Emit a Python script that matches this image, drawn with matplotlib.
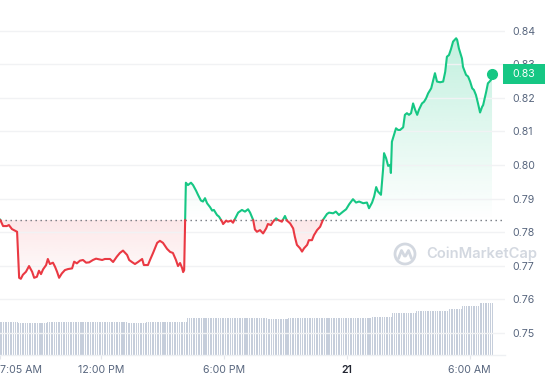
import numpy as np
import matplotlib
matplotlib.use("Agg")
import matplotlib.pyplot as plt
from matplotlib.patches import Polygon, Circle, Rectangle
from matplotlib.colors import to_rgb

plt.rcParams["font.family"] = ["Inter", "DejaVu Sans"]

# ---------------- data ----------------
# minutes since 07:05 AM (day 20)
minutes = [0, 9, 20, 26, 35, 44, 50, 56, 61, 67, 76, 85, 94, 100, 108, 114, 120, 126, 135, 140,
           146, 155, 161, 167, 173, 181, 190, 199, 211, 217, 225, 234, 243, 252, 261, 272, 281, 290,
           299, 307, 322, 331, 342, 351, 360, 372, 378, 386, 395, 404, 416, 421, 433, 439, 448, 460,
           468, 477, 489, 498, 506, 515, 521, 527, 533, 536, 539,
           544, 550, 559, 565, 574, 580, 588, 594, 600, 606, 615, 621, 626, 635, 641, 650, 653, 662,
           667, 676, 682, 691, 697, 708, 717, 726, 732, 741, 746, 752, 761, 770, 779, 784, 793, 799,
           808, 814,
           825, 834, 840, 849, 858, 863, 869, 878, 884, 890, 899, 904, 913, 919, 928, 937, 945, 957,
           963, 975, 983, 992, 1004, 1013, 1022, 1033, 1042, 1051, 1063, 1074, 1080,
           1089, 1095, 1101, 1106, 1115, 1121, 1124, 1130, 1136, 1142, 1144, 1147, 1153, 1159, 1165,
           1171, 1180, 1185, 1191, 1197, 1203, 1209, 1215, 1221, 1226, 1235, 1241, 1247, 1253, 1262,
           1267, 1273,
           1279, 1288, 1297, 1303, 1308, 1314, 1320, 1326, 1335, 1338, 1343, 1352, 1355, 1364, 1370,
           1376, 1382, 1387, 1393, 1399, 1405, 1411, 1414, 1423, 1428, 1431, 1437, 1440]

prices = [0.7838, 0.7818, 0.7818, 0.7821, 0.7809, 0.7804, 0.7801, 0.7664, 0.7661, 0.7673, 0.7682,
          0.7699, 0.7682, 0.7664, 0.7667, 0.7685, 0.7675, 0.7689, 0.7702, 0.7720, 0.7705, 0.7709,
          0.7697, 0.7682, 0.7664, 0.7677, 0.7687, 0.7690, 0.7692, 0.7712, 0.7707, 0.7715, 0.7717,
          0.7709, 0.7710, 0.7717, 0.7721, 0.7719,
          0.7717, 0.7720, 0.7720, 0.7711, 0.7727, 0.7738, 0.7745, 0.7732, 0.7717, 0.7711, 0.7705,
          0.7711, 0.7720, 0.7702, 0.7702, 0.7717, 0.7738, 0.7768, 0.7774, 0.7768, 0.7750, 0.7741,
          0.7738, 0.7717, 0.7699, 0.7708, 0.7693, 0.7681, 0.7687,
          0.7947, 0.7940, 0.7947, 0.7940, 0.7923, 0.7910, 0.7894, 0.7891, 0.7901, 0.7886, 0.7874,
          0.7864, 0.7866, 0.7851, 0.7846, 0.7831, 0.7824, 0.7834, 0.7831, 0.7834, 0.7828, 0.7846,
          0.7858, 0.7866, 0.7861, 0.7868, 0.7858, 0.7836, 0.7808, 0.7801, 0.7806, 0.7796, 0.7811,
          0.7824, 0.7821, 0.7831, 0.7841, 0.7836,
          0.7831, 0.7848, 0.7834, 0.7826, 0.7811, 0.7786, 0.7762, 0.7752, 0.7742, 0.7752, 0.7762,
          0.7776, 0.7776, 0.7791, 0.7806, 0.7816, 0.7836, 0.7854, 0.7858, 0.7856, 0.7861, 0.7851,
          0.7861, 0.7868, 0.7883, 0.7898, 0.7888, 0.7891, 0.7886, 0.7888, 0.7871,
          0.7888, 0.7906, 0.7934, 0.7921, 0.7911, 0.7985, 0.8035, 0.8020, 0.7997, 0.8000, 0.7976,
          0.8069, 0.8089, 0.8109, 0.8104, 0.8104, 0.8112, 0.8149, 0.8154, 0.8149, 0.8154, 0.8183,
          0.8164, 0.8149, 0.8164, 0.8183, 0.8188, 0.8198, 0.8213, 0.8228, 0.8248, 0.8273,
          0.8248, 0.8246, 0.8248, 0.8277, 0.8322, 0.8327, 0.8345, 0.8367, 0.8377, 0.8372, 0.8347,
          0.8317, 0.8292, 0.8268, 0.8263, 0.8248, 0.8228, 0.8223, 0.8208, 0.8183, 0.8156, 0.8173,
          0.8178, 0.8218, 0.8243, 0.8246, 0.8253, 0.8270]

base_price = 0.7836
last_label = "0.83"

# volume (USD millions), given as runs of equal 5-minute bars
vol_levels = [330, 320, 330, 325, 335, 370, 360, 370, 385, 425, 445, 465, 490, 525]
vol_counts = [11, 17, 47, 11, 24, 47, 12, 49, 12, 14, 19, 8, 10, 8]
vol_step_min = 5

ytick_vals = [0.75, 0.76, 0.77, 0.78, 0.79, 0.80, 0.81, 0.82, 0.83, 0.84]
xtick_minutes = [0, 295, 655, 1015, 1375]
xtick_labels = ["7:05 AM", "12:00 PM", "6:00 PM", "21", "6:00 AM"]

# ---------------- style ----------------
GREEN = "#16c784"
RED = "#ea3943"
LABEL = "#58667e"

W, H = 545, 380
fig = plt.figure(figsize=(W / 100, H / 100), dpi=100)
fig.patch.set_facecolor("white")

ax_left, ax_right_px, ax_top_px, ax_bot_px = 0, 505, 10, 355
rect = [ax_left / W, (H - ax_bot_px) / H, (ax_right_px - ax_left) / W, (ax_bot_px - ax_top_px) / H]

x_max = 1478
px_per_price = 3360.0
y_bot = 0.84908 - ax_bot_px / px_per_price
y_top = 0.84908 - ax_top_px / px_per_price

# watermark overlay (behind)
ov = fig.add_axes([0, 0, 1, 1], zorder=0)
ov.set_xlim(0, W)
ov.set_ylim(H, 0)
ov.axis("off")
wm = "#d3d8e0"
ov.add_patch(Circle((405, 254), 10, fill=False, edgecolor=wm, lw=2.0))
ov.plot([398.5, 401.5, 404.5, 405.5, 408.5, 411.5],
        [258.5, 250.5, 256, 256, 250.5, 258.5], color=wm, lw=2.0,
        solid_capstyle="round", solid_joinstyle="round")
ov.text(426, 254, "CoinMarketCap", color=wm, fontsize=10.6, fontweight="semibold",
        ha="left", va="center")

# volume axes
axv = fig.add_axes(rect, zorder=1)
axv.patch.set_visible(False)
vols = np.repeat(vol_levels, vol_counts)
vt = np.arange(len(vols)) * vol_step_min
axv.bar(vt, vols, width=3.0, color="#c6cedb", linewidth=0, align="center")
axv.set_xlim(0, x_max)
axv.set_ylim(0, (ax_bot_px - ax_top_px) * 10)
axv.axis("off")

# price axes
ax = fig.add_axes(rect, zorder=2)
ax.patch.set_visible(False)

t = np.array(minutes, float)
p = np.array(prices, float)
xs, ys = [t[0]], [p[0]]
for i in range(1, len(t)):
    d0, d1 = p[i - 1] - base_price, p[i] - base_price
    if d0 * d1 < 0:
        f = d0 / (d0 - d1)
        xs.append(t[i - 1] + f * (t[i] - t[i - 1]))
        ys.append(base_price)
    xs.append(t[i])
    ys.append(p[i])
xs = np.array(xs)
ys = np.array(ys)


def gradient_fill(yvals, color, a_top, a_bot, g_top, g_bot):
    verts = np.column_stack([np.r_[xs, xs[-1], xs[0]], np.r_[yvals, base_price, base_price]])
    poly = Polygon(verts, closed=True, facecolor="none", edgecolor="none", transform=ax.transData)
    ax.add_patch(poly)
    n = 256
    img = np.zeros((n, 1, 4))
    img[..., :3] = to_rgb(color)
    img[:, 0, 3] = np.linspace(a_top, a_bot, n)
    im = ax.imshow(img, extent=[xs.min(), xs.max(), g_bot, g_top], origin="upper",
                   aspect="auto", zorder=1, interpolation="bilinear")
    im.set_clip_path(poly)


gradient_fill(np.maximum(ys, base_price), GREEN, 0.26, 0.0, p.max(), base_price)
gradient_fill(np.minimum(ys, base_price), RED, 0.12, 0.02, base_price, p.min())

above = np.where(ys >= base_price, ys, np.nan)
below = np.where(ys <= base_price, ys, np.nan)
ax.plot(xs, above, color=GREEN, lw=1.5, zorder=4, solid_joinstyle="round", solid_capstyle="round")
ax.plot(xs, below, color=RED, lw=1.5, zorder=4, solid_joinstyle="round", solid_capstyle="round")
ax.axhline(base_price, color="#70757d", lw=1.0, ls=(0, (1, 2.6)), zorder=3)
ax.plot([t[-1]], [p[-1]], "o", color=GREEN, ms=7, zorder=5)

ax.set_xlim(0, x_max)
ax.set_ylim(y_bot, y_top)
ax.set_yticks(ytick_vals)
ax.set_yticklabels([f"{v:.2f}" for v in ytick_vals])
ax.yaxis.tick_right()
ax.tick_params(axis="y", length=0, pad=5, labelsize=7.6, labelcolor=LABEL)
ax.grid(axis="y", color="#f1f2f4", lw=1.0, zorder=0)
ax.set_xticks(xtick_minutes)
ax.set_xticklabels(xtick_labels)
ax.tick_params(axis="x", length=3, width=0.8, color="#e3e6eb", pad=4, labelsize=7.6, labelcolor=LABEL)
for lbl in ax.get_xticklabels():
    if lbl.get_text() == "7:05 AM":
        lbl.set_ha("left")
    if lbl.get_text() == "21":
        lbl.set_fontweight("semibold")
        lbl.set_color("#222531")
for s in ["top", "left", "right"]:
    ax.spines[s].set_visible(False)
ax.spines["bottom"].set_color("#eef0f3")
ax.spines["bottom"].set_linewidth(1.0)

# last price badge
badge_y = ax.transData.transform((0, p[-1]))[1] / fig.dpi / (H / 100)
bh = 20 / H
fig.add_artist(Rectangle((503 / W, badge_y - bh / 2), 42 / W, bh, transform=fig.transFigure,
                         facecolor=GREEN, edgecolor="none", zorder=6))
fig.text(524 / W, badge_y, last_label, color="white", fontsize=7.6, ha="center", va="center", zorder=7)

fig.savefig("out.png", dpi=100, facecolor="white")
